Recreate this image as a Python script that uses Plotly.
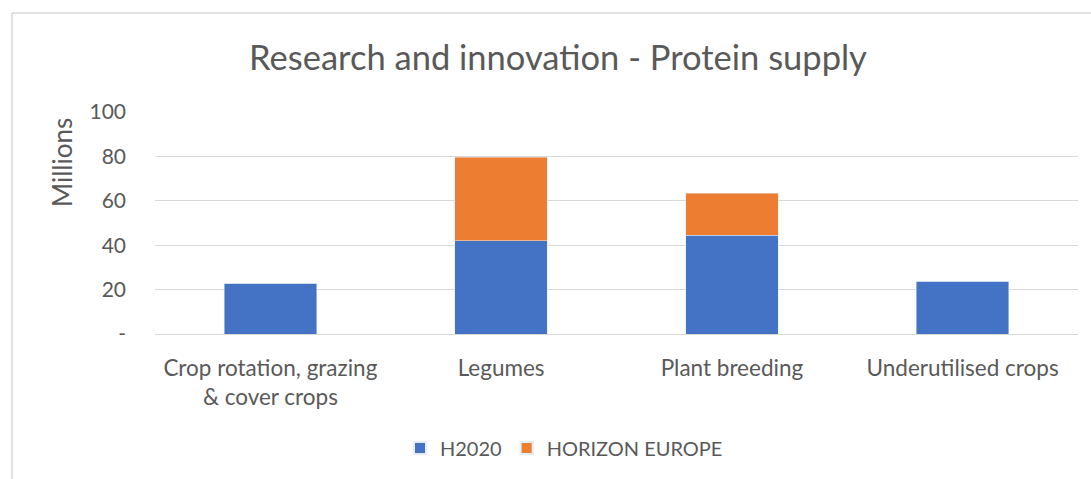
import plotly.graph_objects as go

categories = ["Crop rotation, grazing<br>& cover crops", "Legumes", "Plant breeding", "Underutilised crops"]
h2020 = [22.8, 42.0, 44.4, 23.8]
horizon_europe = [0, 37.6, 18.9, 0]
y_tickvals = [0, 20, 40, 60, 80, 100]
y_ticktext = ["-", "20", "40", "60", "80", "100"]

FONT = "Lato"
GREY = "#595959"

fig = go.Figure()
fig.add_trace(go.Bar(x=categories, y=h2020, name="H2020", marker_color="#4472C4"))
fig.add_trace(go.Bar(x=categories, y=horizon_europe, name="HORIZON EUROPE", marker_color="#ED7D31"))

W, H = 1091, 479
ml, mr, mt, mb = 155, 13, 112, 145
pw, ph = W - ml - mr, H - mt - mb

def px_x(p):
    return (p - ml) / pw

def px_y(p):
    return (H - mb - p) / ph

fig.update_layout(
    width=W, height=H,
    barmode="stack", bargap=0.6,
    margin=dict(l=ml, r=mr, t=mt, b=mb, autoexpand=False),
    paper_bgcolor="white", plot_bgcolor="white",
    font=dict(family=FONT, color=GREY, size=20),
    title=dict(text="Research and innovation - Protein supply", xref="container", x=558 / W, xanchor="center",
               yref="container", y=1 - 58 / H, yanchor="middle", font=dict(size=34.5, color=GREY, family=FONT)),
    showlegend=True,
    legend=dict(orientation="h", x=px_x(564), xanchor="center", y=px_y(448), yanchor="middle",
                font=dict(size=20, color=GREY), traceorder="normal", itemwidth=30,
                itemsizing="constant"),
    xaxis=dict(showgrid=False, showline=False, ticks="", ticklabelstandoff=18,
               tickfont=dict(size=22.5, color=GREY)),
    yaxis=dict(range=[0, 100], tickvals=y_tickvals, ticktext=y_ticktext, showgrid=True,
               gridcolor="#D9D9D9", gridwidth=1.3, zeroline=True, zerolinecolor="#D9D9D9",
               zerolinewidth=1.3, showline=False, ticks="", ticklabelstandoff=28,
               tickfont=dict(size=21, color=GREY)),
    annotations=[dict(text="Millions", x=px_x(62), y=px_y(163), xref="paper", yref="paper",
                      showarrow=False, textangle=-90, font=dict(size=26, color=GREY),
                      xanchor="center", yanchor="middle")],
    shapes=[
        dict(type="line", xref="paper", yref="paper", x0=px_x(12), x1=px_x(1091), y0=px_y(13), y1=px_y(13),
             line=dict(color="#D9D9D9", width=1.5)),
        dict(type="line", xref="paper", yref="paper", x0=px_x(12), x1=px_x(12), y0=px_y(13), y1=px_y(479),
             line=dict(color="#D9D9D9", width=1.5)),
    ],
)

fig.write_html("out.html", config={"displayModeBar": False},
               post_script="document.body.style.margin='0px';")
